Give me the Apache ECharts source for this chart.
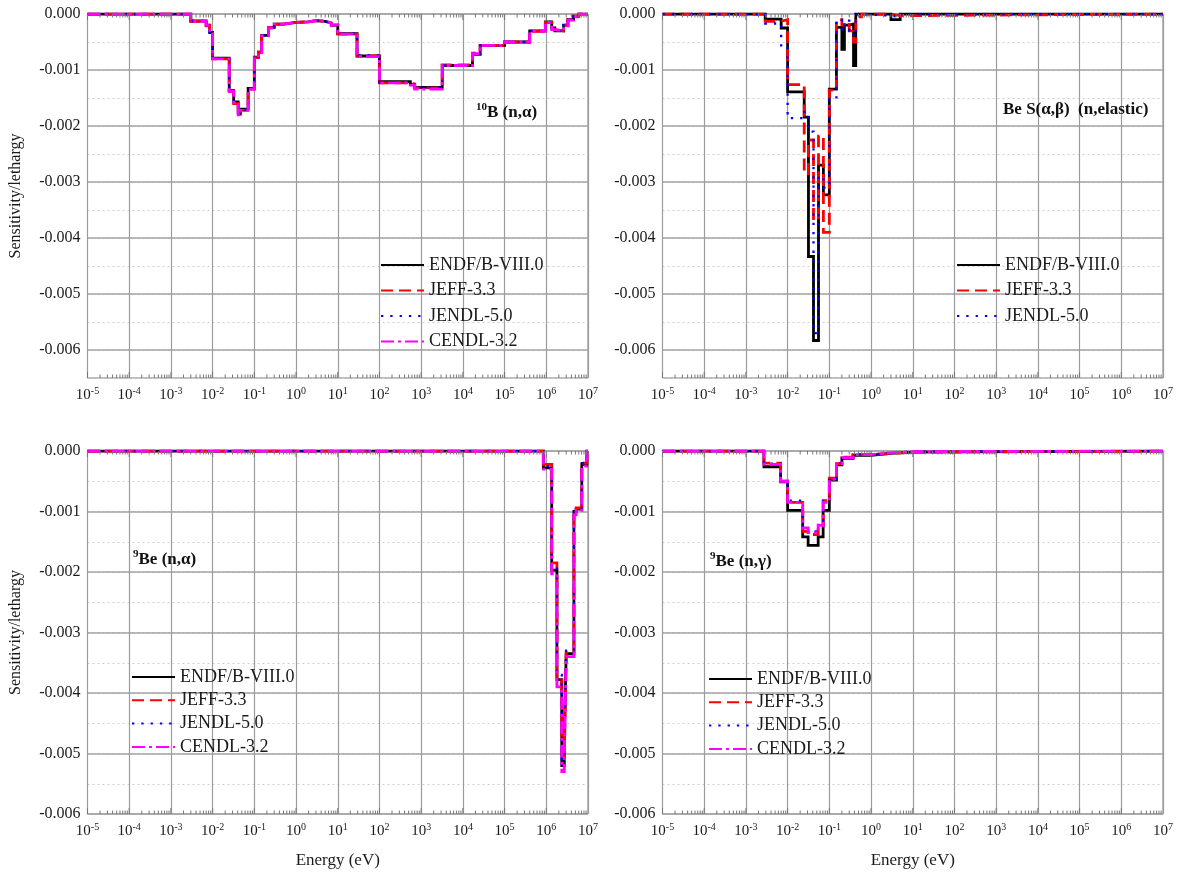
<!DOCTYPE html>
<html>
<head>
<meta charset="utf-8">
<script src="https://cdn.jsdelivr.net/npm/echarts@6/dist/echarts.min.js"></script>
<style>
  html, body { margin: 0; padding: 0; background: #ffffff; }
  #chart { width: 1186px; height: 878px; }
</style>
</head>
<body>
<div id="chart"></div>
<script>
// Nuclear-data libraries compared in every panel
const libraries = ['ENDF/B-VIII.0', 'JEFF-3.3', 'JENDL-5.0', 'CENDL-3.2'];

// 10B (n,alpha): group lower edges (eV, last entry is the upper edge) and sensitivity per lethargy
const b10Edges = [1e-5, 3e-3, 7e-3, 8.5e-3, 1e-2, 2.5e-2, 3.2e-2, 4.1e-2, 4.6e-2, 7.1e-2, 0.1, 0.125, 0.15, 0.22, 0.3, 0.5, 1, 2, 3, 5, 7, 10, 29, 100, 550, 700, 3.2e3, 1.7e4, 2.6e4, 1e5, 4e5, 9.5e5, 1.35e6, 1.6e6, 2.6e6, 3.3e6, 4.5e6, 6e6, 1e7];
const b10Endf  = [0, -0.000125, -0.0002, -0.00033, -0.00079, -0.00137, -0.00157, -0.00177, -0.0017, -0.00133, -0.00077, -0.00068, -0.00038, -0.00024, -0.00018, -0.00015, -0.00014, -0.00012, -0.00013, -0.00016, -0.0002, -0.00035, -0.00075, -0.00121, -0.00126, -0.00131, -0.00092, -0.00072, -0.00056, -0.0005, -0.0003, -0.00014, -0.00025, -0.0003, -0.0002, -0.0001, -0.00004, 0];
const b10Jeff  = [0, -0.00013, -0.00021, -0.00034, -0.0008, -0.00138, -0.0016, -0.00179, -0.00172, -0.00134, -0.00078, -0.00068, -0.00039, -0.00024, -0.00018, -0.00015, -0.00014, -0.00012, -0.00013, -0.00016, -0.0002, -0.00036, -0.00075, -0.00123, -0.00125, -0.00132, -0.00091, -0.0007, -0.00056, -0.0005, -0.00031, -0.00015, -0.00028, -0.0003, -0.0002, -0.0001, -0.00004, 0];
const b10Jendl = [0, -0.000125, -0.0002, -0.00033, -0.00079, -0.00137, -0.00158, -0.00178, -0.00171, -0.00133, -0.00077, -0.00068, -0.00038, -0.00024, -0.00018, -0.00015, -0.00014, -0.00012, -0.00013, -0.00016, -0.0002, -0.00035, -0.00074, -0.00122, -0.00126, -0.00131, -0.00092, -0.00071, -0.00056, -0.0005, -0.0003, -0.00014, -0.00026, -0.0003, -0.0002, -0.0001, -0.00004, 0];
const b10Cendl = [0, -0.00013, -0.0002, -0.00033, -0.0008, -0.00138, -0.00158, -0.0018, -0.00172, -0.00134, -0.00078, -0.00069, -0.00039, -0.00025, -0.00018, -0.00015, -0.00014, -0.00012, -0.00013, -0.00016, -0.0002, -0.00036, -0.00076, -0.00123, -0.00127, -0.00134, -0.00092, -0.00071, -0.00056, -0.0005, -0.00031, -0.00015, -0.00028, -0.0003, -0.00021, -0.00011, -0.00005, 0];

// Be S(alpha,beta) elastic scattering
const beSabEdges = [1e-5, 2.9e-3, 7e-3, 1e-2, 0.025, 0.0316, 0.0417, 0.055, 0.072, 0.1, 0.148, 0.2, 0.23, 0.3, 0.38, 0.43, 0.6, 3, 5, 1e7];
const beSabEndf  = [0, -0.00009, -0.00025, -0.00139, -0.00184, -0.00433, -0.00583, -0.0027, -0.00323, -0.00134, -0.00024, -0.00063, -0.0002, -0.00018, -0.00092, 0, 0, -0.0001, 0];
const beSabJeff  = [0, -0.00013, -0.0001, -0.00126, -0.00285, -0.00225, -0.00368, -0.00218, -0.0039, -0.00136, -0.0001, -0.0002, -0.00015, -0.0003, -0.0005, -0.00005, 0, -0.00003, 0];
const beSabJendl = [0, -0.00017, -0.0006, -0.00186, -0.00175, -0.0021, -0.0057, -0.0029, -0.0031, -0.00152, -0.0001, -0.0003, -0.00012, -0.00029, -0.0004, 0, -0.00003, -0.00005, 0];

// 9Be (n,alpha)
const be9naEdges = [1e-5, 8.5e5, 1.35e6, 1.8e6, 2.35e6, 2.7e6, 3e6, 4.6e6, 5.2e6, 7.1e6, 9.4e6, 1e7];
const be9naEndf  = [0, -0.00028, -0.00197, -0.00378, -0.0052, -0.0048, -0.00335, -0.001, -0.00096, -0.00022, 0];
const be9naJeff  = [0, -0.00022, -0.00185, -0.00372, -0.0047, -0.0051, -0.00332, -0.00098, -0.00094, -0.0002, 0];
const be9naJendl = [0, -0.00025, -0.0019, -0.0037, -0.0051, -0.0049, -0.0033, -0.001, -0.00095, -0.0002, 0];
const be9naCendl = [0, -0.0003, -0.00203, -0.0039, -0.0053, -0.0051, -0.0034, -0.00105, -0.00098, -0.00025, 0];

// 9Be (n,gamma)
const be9ngEdges = [1e-5, 2.7e-3, 6.8e-3, 1e-2, 0.023, 0.031, 0.054, 0.071, 0.1, 0.148, 0.2, 0.37, 1, 3, 10, 1e7];
const be9ngEndf  = [0, -0.00026, -0.00051, -0.00098, -0.00142, -0.00156, -0.00142, -0.00098, -0.00048, -0.00023, -0.00012, -0.00007, -0.00004, -0.00002, 0];
const be9ngJeff  = [0, -0.0002, -0.0005, -0.00085, -0.00133, -0.00138, -0.00124, -0.00082, -0.00045, -0.00021, -0.0001, -0.00006, -0.00004, -0.00002, 0];
const be9ngJendl = [0, -0.00021, -0.0005, -0.00082, -0.00126, -0.00133, -0.00122, -0.00083, -0.00046, -0.0002, -0.00011, -0.00006, -0.00003, -0.00001, 0];
const be9ngCendl = [0, -0.00022, -0.0005, -0.00085, -0.00127, -0.00135, -0.00123, -0.00085, -0.00047, -0.00021, -0.00011, -0.00006, -0.00003, -0.00001, 0];

// Energy axis: decades 10^-5 ... 10^7 (exponents)
const energyExponents = [-5, -4, -3, -2, -1, 0, 1, 2, 3, 4, 5, 6, 7];

const FONT = '"Liberation Serif", "Times New Roman", serif';
const TEXT = '#1a1a1a';

const lineStyles = [
  { color: '#000000', width: 2.8, type: 'solid' },
  { color: '#ff0000', width: 2.8, type: [12, 6] },
  { color: '#0000ff', width: 2.3, type: [2.3, 7] },
  { color: '#ff00ff', width: 2.8, type: [13, 4, 3, 4] }
];

// Histogram -> step points on the log10(E) scale
function stepData(edges, values) {
  const pts = values.map((v, i) => [Math.log10(edges[i]), v]);
  pts.push([Math.log10(edges[edges.length - 1]), values[values.length - 1]]);
  return pts;
}

const panels = [
  { edges: b10Edges, sets: [b10Endf, b10Jeff, b10Jendl, b10Cendl],
    grid: { left: 87.5, top: 14, width: 500.5, height: 364 }, ymin: -0.0065, yTitle: true, xTitle: false,
    legend: { left: 380, top: 256, itemGap: 7.5 },
    label: { text: '{s|10}{m|B (n,α)}', left: 476, top: 102 } },
  { edges: beSabEdges, sets: [beSabEndf, beSabJeff, beSabJendl],
    grid: { left: 662.5, top: 14, width: 500.5, height: 364 }, ymin: -0.0065, yTitle: false, xTitle: false,
    legend: { left: 956, top: 256, itemGap: 7.5 },
    label: { text: '{m|Be S(α,β)  (n,elastic)}', left: 1003, top: 99 } },
  { edges: be9naEdges, sets: [be9naEndf, be9naJeff, be9naJendl, be9naCendl],
    grid: { left: 87.5, top: 451, width: 500.5, height: 363 }, ymin: -0.006, yTitle: true, xTitle: true,
    legend: { left: 131, top: 668, itemGap: 5.3 },
    label: { text: '{s|9}{m|Be (n,α)}', left: 133, top: 549 } },
  { edges: be9ngEdges, sets: [be9ngEndf, be9ngJeff, be9ngJendl, be9ngCendl],
    grid: { left: 662.5, top: 451, width: 500.5, height: 363 }, ymin: -0.006, yTitle: false, xTitle: true,
    legend: { left: 708, top: 670, itemGap: 5.3 },
    label: { text: '{s|9}{m|Be (n,γ)}', left: 710, top: 551 } }
];

const option = {
  backgroundColor: '#ffffff',
  animation: false,
  title: [], grid: [], xAxis: [], yAxis: [], legend: [], series: []
};

panels.forEach((p, i) => {
  option.grid.push(Object.assign({ show: true, borderColor: '#7a7a7a', borderWidth: 1, backgroundColor: 'transparent' }, p.grid));

  option.title.push({
    text: p.label.text, left: p.label.left, top: p.label.top, padding: 0,
    textStyle: {
      fontFamily: FONT, fontWeight: 'bold', color: '#111',
      rich: {
        s: { fontFamily: FONT, fontWeight: 'bold', fontSize: 11, lineHeight: 12, verticalAlign: 'top', color: '#111' },
        m: { fontFamily: FONT, fontWeight: 'bold', fontSize: 17, lineHeight: 22, color: '#111' }
      }
    }
  });

  option.xAxis.push({
    type: 'value', gridIndex: i,
    min: energyExponents[0], max: energyExponents[energyExponents.length - 1], interval: 1,
    name: p.xTitle ? 'Energy (eV)' : '', nameLocation: 'middle', nameGap: 38,
    nameTextStyle: { fontFamily: FONT, fontSize: 17, color: TEXT },
    axisLine: { show: false }, axisTick: { show: false },
    axisLabel: {
      margin: 8, showMinLabel: true, showMaxLabel: true,
      formatter: v => '{b|10}{s|' + Math.round(v) + '}',
      rich: {
        b: { fontFamily: FONT, fontSize: 15, lineHeight: 18, color: TEXT },
        s: { fontFamily: FONT, fontSize: 10, lineHeight: 10, verticalAlign: 'top', color: TEXT }
      }
    },
    splitLine: { show: true, lineStyle: { color: '#9c9c9c', width: 1.2 } }
  });

  const offHalf = Math.abs(Math.round(p.ymin * 1000) - p.ymin * 1000) > 1e-6;
  // labelled axis with dotted half-step grid
  option.yAxis.push({
    type: 'value', gridIndex: i, min: p.ymin, max: 0, interval: 0.0005,
    name: p.yTitle ? 'Sensitivity/lethargy' : '', nameLocation: 'middle', nameGap: 64,
    nameTextStyle: { fontFamily: FONT, fontSize: 16, color: TEXT },
    axisLine: { show: false }, axisTick: { show: false },
    axisLabel: {
      margin: 7, fontFamily: FONT, fontSize: 16, color: TEXT,
      formatter: v => Math.abs(Math.round(v * 1000) - v * 1000) < 1e-6 ? (Math.abs(v) < 1e-9 ? '0.000' : v.toFixed(3)) : ''
    },
    splitLine: { show: true, lineStyle: { color: '#cfcfcf', width: 1, type: [2, 3] } }
  });
  // solid grid lines at whole 0.001 steps
  option.yAxis.push({
    type: 'value', gridIndex: i, min: p.ymin, max: 0, interval: 0.0005, position: 'left',
    axisLine: { show: false }, axisTick: { show: false }, axisLabel: { show: false },
    splitLine: { show: true, lineStyle: { width: 1.6, color: offHalf ? ['rgba(0,0,0,0)', '#a3a3a3'] : ['#a3a3a3', 'rgba(0,0,0,0)'] } }
  });

  option.legend.push({
    data: libraries.slice(0, p.sets.length),
    orient: 'vertical', left: p.legend.left, top: p.legend.top, itemGap: p.legend.itemGap,
    itemWidth: 43, itemHeight: 14, padding: 0, selectedMode: false,
    itemStyle: { opacity: 0, borderWidth: 0 },
    textStyle: { fontFamily: FONT, fontSize: 18, lineHeight: 18, color: TEXT }
  });

  p.sets.forEach((vals, j) => {
    option.series.push({
      type: 'line', name: libraries[j], xAxisIndex: i, yAxisIndex: 2 * i,
      data: stepData(p.edges, vals), step: 'end',
      color: lineStyles[j].color,
      symbol: 'none', showSymbol: false, silent: true, z: 3 + j,
      lineStyle: Object.assign({ cap: 'butt', join: 'miter' }, lineStyles[j])
    });
  });

  // decade and sub-decade ticks along the bottom and top frame
  option.series.push({
    type: 'custom', xAxisIndex: i, yAxisIndex: 2 * i, silent: true, z: 10,
    data: [[0, 0]],
    renderItem: (params, api) => {
      const cs = params.coordSys;
      const children = [];
      for (let d = energyExponents[0]; d < energyExponents[energyExponents.length - 1]; d++) {
        for (let k = 1; k <= 9; k++) {
          const x = api.coord([d + Math.log10(k), 0])[0];
          const len = k === 1 ? 6 : 3.5;
          const yb = cs.y + cs.height, yt = cs.y;
          children.push({ type: 'line', shape: { x1: x, y1: yb, x2: x, y2: yb - len }, style: { stroke: '#777', lineWidth: 1 } });
          children.push({ type: 'line', shape: { x1: x, y1: yt, x2: x, y2: yt + len }, style: { stroke: '#777', lineWidth: 1 } });
        }
      }
      return { type: 'group', children: children };
    }
  });
});

const chart = echarts.init(document.getElementById('chart'), null, { renderer: 'canvas' });
chart.setOption(option);
</script>
</body>
</html>
